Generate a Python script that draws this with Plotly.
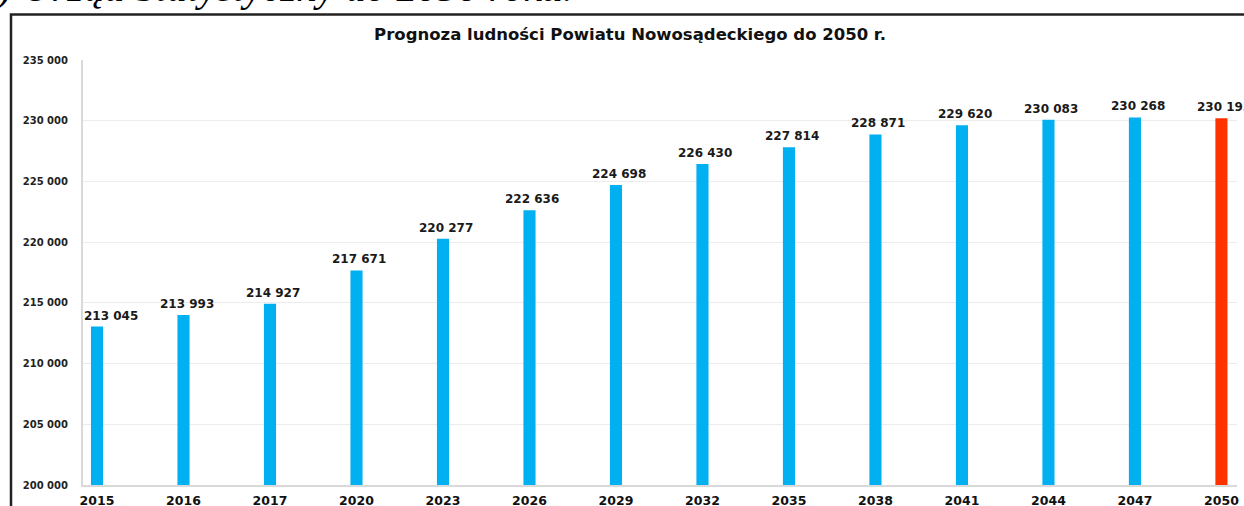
import plotly.graph_objects as go

years = ["2015", "2016", "2017", "2020", "2023", "2026", "2029", "2032", "2035", "2038", "2041", "2044", "2047", "2050"]
population = [213045, 213993, 214927, 217671, 220277, 222636, 224698, 226430, 227814, 228871, 229620, 230083, 230268, 230193]
colors = ["#00B0F0"] * 13 + ["#FF3300"]
y_ticks = [200000, 205000, 210000, 215000, 220000, 225000, 230000, 235000]

W, H = 1244, 506
L, R, T, B = 83, 7, 60, 21
pw, ph = W - L - R, H - T - B
FONT = "DejaVu Sans"

fig = go.Figure()
fig.add_trace(go.Bar(
    x=list(range(len(years))), y=population,
    marker=dict(color=colors, line=dict(width=0)),
    width=0.14,
    cliponaxis=False,
))

# data labels (first one nudged right to stay inside the plot area, as in the original)
for i, v in enumerate(population):
    fig.add_annotation(x=i, y=v, xref="x", yref="y",
                       text=f"{v:,}".replace(",", " "),
                       showarrow=False, yanchor="bottom", yshift=2,
                       xshift=14 if i == 0 else 3,
                       font=dict(family=FONT, size=12, color="#1a1a1a", weight="bold"))

fig.update_layout(
    width=W, height=H,
    margin=dict(l=L, r=R, t=T, b=B),
    paper_bgcolor="white", plot_bgcolor="white",
    separators=", ",
    showlegend=False,
    title=dict(text="<b>Prognoza ludności Powiatu Nowosądeckiego do 2050 r.</b>",
               x=630 / W, xanchor="center", y=1 - 34 / H, yanchor="middle",
               font=dict(family=FONT, size=16.5, color="#111")),
    xaxis=dict(range=[-0.162, 13.18], tickvals=list(range(len(years))), ticktext=years,
               showgrid=False, showline=True, linecolor="#d9d9d9", linewidth=2,
               ticks="", ticklabelstandoff=3, automargin=False,
               tickfont=dict(family=FONT, size=12.5, color="#111", weight="bold"),
               zeroline=False, fixedrange=True),
    yaxis=dict(range=[200000, 235000], tickvals=y_ticks, tickformat=",d",
               showgrid=True, gridcolor="#ececec", gridwidth=1,
               showline=True, linecolor="#d9d9d9", linewidth=2, ticks="",
               ticklabelstandoff=11, automargin=False,
               tickfont=dict(family=FONT, size=10, color="#222", weight="bold"),
               zeroline=False, fixedrange=True),
    bargap=0.8,
)

# outer frame
x0 = (11 - L) / pw
y1 = 1 + (T - 14.5) / ph
fig.add_shape(type="rect", xref="paper", yref="paper", x0=x0, x1=1.2, y0=-0.3, y1=y1,
              line=dict(color="#222", width=2.5), fillcolor="rgba(0,0,0,0)", layer="above")

# cut-off caption above the chart
fig.add_annotation(text=") Urząd Statystyczny do 2050 roku.", xref="paper", yref="paper",
                   x=(-6 - L) / pw, xanchor="left", y=1 + (T - 12) / ph, yanchor="bottom",
                   showarrow=False,
                   font=dict(family="Liberation Serif", size=41, color="#000", style="italic"))

fig.write_html("out.html", config={"displayModeBar": False},
               post_script="document.body.style.margin='0';document.body.style.overflow='hidden';")
